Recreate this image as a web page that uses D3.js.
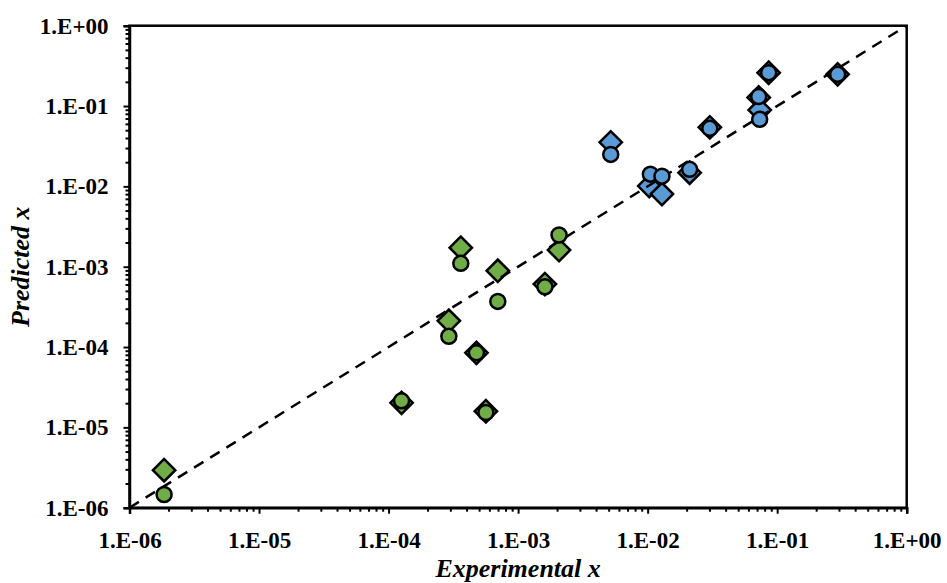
<!DOCTYPE html>
<html>
<head>
<meta charset="utf-8">
<script src="https://cdn.jsdelivr.net/npm/d3@7"></script>
<style>
  html, body { margin: 0; padding: 0; background: #fff; }
  svg { display: block; }
  text { font-family: "Liberation Serif", "Times New Roman", serif; font-weight: bold; }
</style>
</head>
<body>
<svg id="chart" width="947" height="583"></svg>
<script>
// ---- data ----
const greenExpX   = [1.85e-6, 1.26e-4, 2.92e-4, 3.61e-4, 4.77e-4, 5.64e-4, 6.97e-4, 1.61e-3, 2.07e-3];
const greenModelA = [2.93e-6, 2.02e-5, 2.12e-4, 1.72e-3, 8.47e-5, 1.59e-5, 8.89e-4, 6.07e-4, 1.61e-3]; // diamonds
const greenModelB = [1.46e-6, 2.14e-5, 1.36e-4, 1.10e-3, 8.47e-5, 1.53e-5, 3.70e-4, 5.62e-4, 2.48e-3]; // circles

const blueExpXA   = [5.19e-3, 1.03e-2, 1.29e-2, 2.11e-2, 3.02e-2, 7.20e-2, 7.33e-2, 8.60e-2, 0.293];
const blueExpXB   = [5.19e-3, 1.05e-2, 1.29e-2, 2.11e-2, 3.02e-2, 7.20e-2, 7.33e-2, 8.60e-2, 0.293];
const blueModelA  = [3.53e-2, 1.01e-2, 8.02e-3, 1.48e-2, 5.43e-2, 0.128, 8.91e-2, 0.260, 0.248]; // diamonds
const blueModelB  = [2.50e-2, 1.42e-2, 1.34e-2, 1.63e-2, 5.28e-2, 0.131, 6.83e-2, 0.260, 0.248]; // circles

const decades = [-6, -5, -4, -3, -2, -1, 0];
const xTitle = "Experimental x";
const yTitle = "Predicted x";
const parityLine = [1e-6, 1];

// ---- layout ----
const mLeft = 129.5, mRight = 906.7, mTop = 25.7, mBottom = 507.7;
const svg = d3.select("#chart");

const x = d3.scaleLog().domain([1e-6, 1]).range([mLeft, mRight]);
const y = d3.scaleLog().domain([1e-6, 1]).range([mBottom, mTop]);

const fmt = v => {
  const e = Math.round(Math.log10(v));
  return "1.E" + (e < 0 ? "-" : "+") + String(Math.abs(e)).padStart(2, "0");
};
const majors = decades.map(d => Math.pow(10, d));
const minors = [];
decades.slice(0, -1).forEach(d => { for (let k = 2; k <= 9; k++) minors.push(k * Math.pow(10, d)); });

// frame (top & right)
svg.append("rect").attr("x", mLeft).attr("y", mTop).attr("width", mRight - mLeft).attr("height", mBottom - mTop)
  .attr("fill", "none").attr("stroke", "#000").attr("stroke-width", 2.5);

// X axis
const gx = svg.append("g").attr("transform", `translate(0,${mBottom})`);
gx.call(d3.axisBottom(x).tickValues(minors).tickSize(4).tickFormat(""))
  .call(g => g.select(".domain").remove());
gx.append("g").call(d3.axisBottom(x).tickValues(majors).tickSize(6).tickPadding(18).tickFormat(fmt))
  .call(g => g.select(".domain").attr("stroke-width", 2.5));
gx.selectAll(".tick line").attr("stroke-width", 2);
gx.selectAll("text").attr("font-size", 23).attr("fill", "#000")
  .attr("font-family", "'Liberation Serif', serif").attr("font-weight", "bold");

// Y axis
const gy = svg.append("g").attr("transform", `translate(${mLeft},0)`);
gy.call(d3.axisLeft(y).tickValues(minors).tickSize(4).tickFormat(""))
  .call(g => g.select(".domain").remove());
gy.append("g").call(d3.axisLeft(y).tickValues(majors).tickSize(6).tickPadding(15).tickFormat(fmt))
  .call(g => g.select(".domain").attr("stroke-width", 2.5));
gy.selectAll(".tick line").attr("stroke-width", 2);
gy.selectAll("text").attr("font-size", 23).attr("fill", "#000")
  .attr("font-family", "'Liberation Serif', serif").attr("font-weight", "bold");

// markers
function diamonds(xs, ys, color) {
  svg.append("g").selectAll("path").data(xs.map((v, i) => [v, ys[i]])).join("path")
    .attr("d", d3.symbol().type(d3.symbolSquare).size(250))
    .attr("transform", d => `translate(${x(d[0])},${y(d[1])}) rotate(45)`)
    .attr("fill", color).attr("stroke", "#000").attr("stroke-width", 2.5);
}
function circles(xs, ys, color) {
  svg.append("g").selectAll("circle").data(xs.map((v, i) => [v, ys[i]])).join("circle")
    .attr("cx", d => x(d[0])).attr("cy", d => y(d[1])).attr("r", 7.5)
    .attr("fill", color).attr("stroke", "#000").attr("stroke-width", 2.5);
}
const green = "#70AD47", blue = "#5B9BD5";
diamonds(greenExpX, greenModelA, green);
diamonds(blueExpXA, blueModelA, blue);

// parity line
svg.append("line")
  .attr("x1", x(parityLine[0])).attr("y1", y(parityLine[0]))
  .attr("x2", x(parityLine[1])).attr("y2", y(parityLine[1]))
  .attr("stroke", "#000").attr("stroke-width", 2.5).attr("stroke-dasharray", "11,8");

circles(greenExpX, greenModelB, green);
circles(blueExpXB, blueModelB, blue);

// titles
svg.append("text").attr("x", (mLeft + mRight) / 2).attr("y", 577).attr("text-anchor", "middle")
  .attr("font-size", 26).attr("font-style", "italic").text(xTitle);
svg.append("text").attr("transform", `translate(29,${(mTop + mBottom) / 2}) rotate(-90)`)
  .attr("text-anchor", "middle").attr("font-size", 26).attr("font-style", "italic").text(yTitle);
</script>
</body>
</html>
